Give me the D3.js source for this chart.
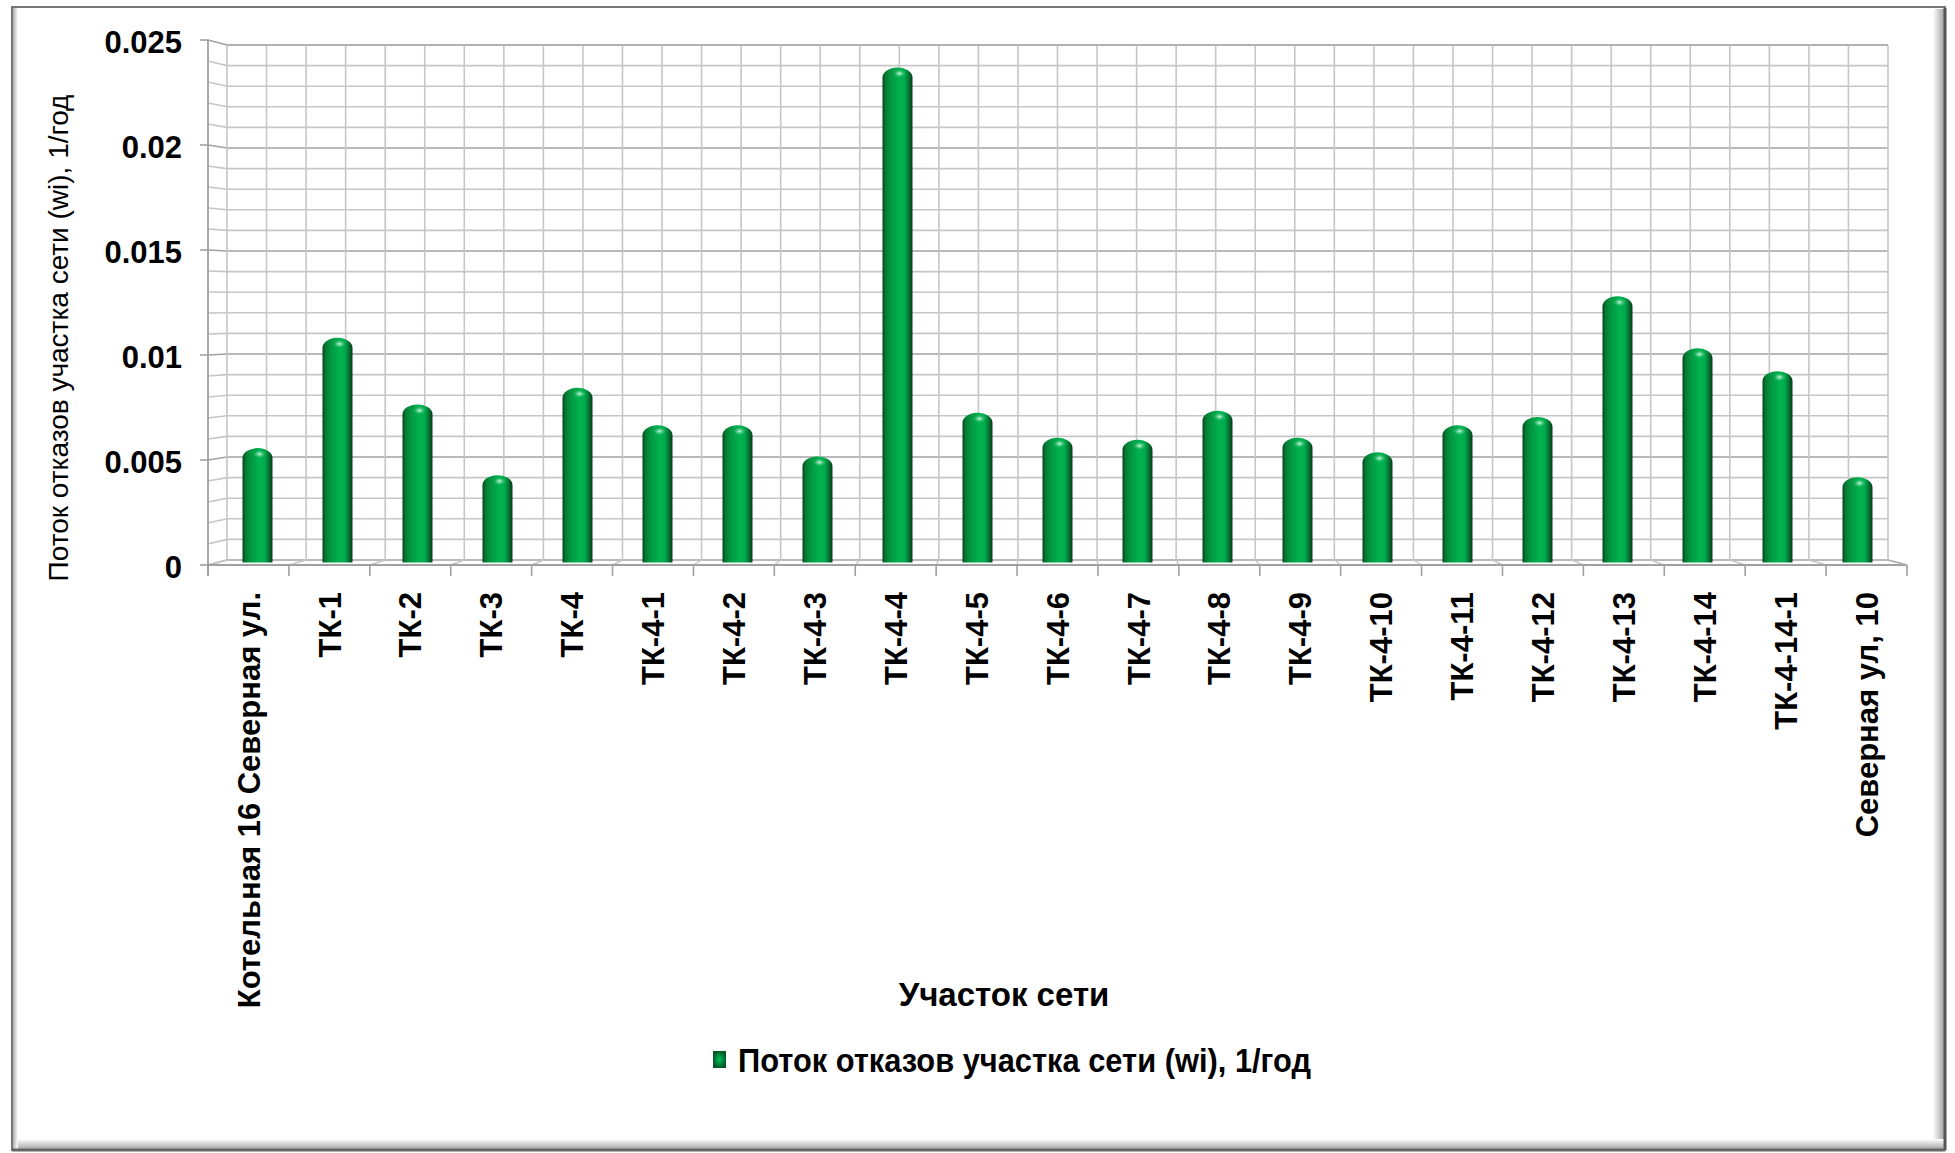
<!DOCTYPE html>
<html><head><meta charset="utf-8">
<script src="https://cdn.jsdelivr.net/npm/d3@7"></script>
<style>html,body{margin:0;padding:0;background:#fff;}svg{display:block;}
text{font-family:"Liberation Sans",Arial,sans-serif;fill:#000;}</style>
</head><body>
<script>
const categories = ["Котельная 16 Северная ул.","ТК-1","ТК-2","ТК-3","ТК-4","ТК-4-1","ТК-4-2","ТК-4-3","ТК-4-4","ТК-4-5","ТК-4-6","ТК-4-7","ТК-4-8","ТК-4-9","ТК-4-10","ТК-4-11","ТК-4-12","ТК-4-13","ТК-4-14","ТК-4-14-1","Северная ул, 10"];
const values = [0.0055,0.0108,0.0076,0.0042,0.0084,0.0066,0.0066,0.0051,0.0238,0.0072,0.0060,0.0059,0.0073,0.0060,0.0053,0.0066,0.0070,0.0128,0.0103,0.0092,0.0041];
const yTicks = [0,0.005,0.01,0.015,0.02,0.025];
const yTickLabels = ["0","0.005","0.01","0.015","0.02","0.025"];
const seriesName = "Поток отказов участка сети (wi), 1/год";
const xTitle = "Участок сети";
const yTitle = "Поток отказов участка сети (wi), 1/год";

const W=1955,H=1153;
const svg=d3.select("body").append("svg").attr("width",W).attr("height",H);
const defs=svg.append("defs");

// frame shadows
const gR=defs.append("linearGradient").attr("id","shR").attr("x1",0).attr("x2",1).attr("y1",0).attr("y2",0);
gR.append("stop").attr("offset",0).attr("stop-color","#fff");
gR.append("stop").attr("offset",1).attr("stop-color","#9a9a9a");
const gB=defs.append("linearGradient").attr("id","shB").attr("x1",0).attr("x2",0).attr("y1",0).attr("y2",1);
gB.append("stop").attr("offset",0).attr("stop-color","#fff");
gB.append("stop").attr("offset",1).attr("stop-color","#a0a0a0");
const gL=defs.append("linearGradient").attr("id","shL").attr("x1",1).attr("x2",0).attr("y1",0).attr("y2",0);
gL.append("stop").attr("offset",0).attr("stop-color","#fff");
gL.append("stop").attr("offset",1).attr("stop-color","#b0b0b0");

svg.append("rect").attr("x",12).attr("y",7).attr("width",1933).attr("height",1143).attr("fill","#fff");
svg.append("rect").attr("x",1933).attr("y",9).attr("width",12).attr("height",1141).attr("fill","url(#shR)");
svg.append("rect").attr("x",13).attr("y",1139).attr("width",1932).attr("height",11).attr("fill","url(#shB)");
svg.append("rect").attr("x",13).attr("y",8).attr("width",5).attr("height",1142).attr("fill","url(#shL)");
svg.append("rect").attr("x",12).attr("y",7).attr("width",1933).attr("height",1143).attr("fill","none").attr("stroke","#777").attr("stroke-width",2);
svg.append("line").attr("x1",1945).attr("x2",1945).attr("y1",8).attr("y2",1150).attr("stroke","#555").attr("stroke-width",3);
svg.append("line").attr("x1",12).attr("x2",1945).attr("y1",1150).attr("y2",1150).attr("stroke","#666").attr("stroke-width",3);

// geometry
const fx0=208,fx1=1907,bx0=227,bx1=1888;
const xFront=d3.scaleBand().domain(categories).range([fx0,fx1]);
const xBack=d3.scaleBand().domain(categories).range([bx0,bx1]);
const yFront=d3.scaleLinear().domain([0,0.025]).range([565,40]);
const yBack=d3.scaleLinear().domain([0,0.025]).range([560,45]);
const yMid=d3.scaleLinear().domain([0,0.025]).range([562.5,42.5]);
const minor=d3.range(0,0.02501,0.001);
const isMajor=v=>Math.abs(v/0.005-Math.round(v/0.005))<1e-6;
const grid=svg.append("g");
grid.selectAll("line.bh").data(minor).join("line")
 .attr("x1",bx0).attr("x2",bx1).attr("y1",d=>yBack(d)).attr("y2",d=>yBack(d))
 .attr("stroke",d=>isMajor(d)?"#a2a2a2":"#c6c6c6").attr("stroke-width",1.6);
grid.selectAll("line.lh").data(minor).join("line")
 .attr("x1",fx0).attr("x2",bx0).attr("y1",d=>yFront(d)).attr("y2",d=>yBack(d))
 .attr("stroke",d=>isMajor(d)?"#a2a2a2":"#c6c6c6").attr("stroke-width",1.6);
const halfSteps=d3.range(0,categories.length*2+1);
const xBackHalf=d3.scaleLinear().domain([0,categories.length*2]).range([bx0,bx1]);
grid.selectAll("line.bv").data(halfSteps).join("line")
 .attr("x1",d=>xBackHalf(d)).attr("x2",d=>xBackHalf(d)).attr("y1",yBack(0.025)).attr("y2",yBack(0))
 .attr("stroke","#c6c6c6").attr("stroke-width",1.6);
const bounds=d3.range(0,categories.length+1);
const xFrontB=d3.scaleLinear().domain([0,categories.length]).range([fx0,fx1]);
const xBackB=d3.scaleLinear().domain([0,categories.length]).range([bx0,bx1]);
grid.selectAll("line.fl").data(bounds).join("line")
 .attr("x1",d=>xFrontB(d)).attr("x2",d=>xBackB(d)).attr("y1",yFront(0)).attr("y2",yBack(0))
 .attr("stroke","#c6c6c6").attr("stroke-width",1.4);
grid.append("line").attr("x1",fx0).attr("x2",fx1).attr("y1",yFront(0)).attr("y2",yFront(0)).attr("stroke","#a0a0a0").attr("stroke-width",1.8);
grid.append("line").attr("x1",bx1).attr("x2",fx1).attr("y1",yBack(0)).attr("y2",yFront(0)).attr("stroke","#b0b0b0").attr("stroke-width",1.6);
grid.append("line").attr("x1",bx0).attr("x2",bx1).attr("y1",yBack(0.025)).attr("y2",yBack(0.025)).attr("stroke","#b0b0b0").attr("stroke-width",1.6);
grid.selectAll("line.xt").data(bounds).join("line")
 .attr("x1",d=>xFrontB(d)).attr("x2",d=>xFrontB(d)).attr("y1",yFront(0)).attr("y2",yFront(0)+11)
 .attr("stroke","#a0a0a0").attr("stroke-width",1.6);
grid.append("line").attr("x1",fx0).attr("x2",fx0).attr("y1",yFront(0.025)).attr("y2",yFront(0)+11).attr("stroke","#a0a0a0").attr("stroke-width",1.8);
grid.selectAll("line.yt").data(yTicks).join("line")
 .attr("x1",fx0-8).attr("x2",fx0).attr("y1",d=>yFront(d)).attr("y2",d=>yFront(d))
 .attr("stroke","#a0a0a0").attr("stroke-width",1.6);

// y labels
svg.append("g").selectAll("text").data(yTicks).join("text")
 .attr("x",182).attr("y",d=>yFront(d)+2).attr("dy","0.36em").attr("text-anchor","end")
 .attr("font-size",31).attr("font-weight","bold").text((d,i)=>yTickLabels[i]);

// bars
const bg=defs.append("linearGradient").attr("id","barG").attr("x1",0).attr("x2",1).attr("y1",0).attr("y2",0);
[[0,"#03401c"],[0.1,"#067a34"],[0.3,"#049942"],[0.58,"#00b351"],[0.75,"#00a84b"],[0.9,"#066b2e"],[1,"#023a19"]]
 .forEach(s=>bg.append("stop").attr("offset",s[0]).attr("stop-color",s[1]));
const sp=defs.append("radialGradient").attr("id","spec");
sp.append("stop").attr("offset",0).attr("stop-color","#ffffff").attr("stop-opacity",0.85);
sp.append("stop").attr("offset",0.5).attr("stop-color","#7de0a6").attr("stop-opacity",0.45);
sp.append("stop").attr("offset",1).attr("stop-color","#00b351").attr("stop-opacity",0);
const bw=30, ry=10;
const cx=d=>(xFront(d)+xBack(d))/2+(xFront.bandwidth()+xBack.bandwidth())/4;
const bars=svg.append("g");
categories.forEach((c,i)=>{
  const x=cx(c)-bw/2, top=yMid(values[i]), bot=yMid(0);
  bars.append("path").attr("d",`M${x},${bot} L${x},${top+ry} A${bw/2},${ry} 0 0 1 ${x+bw},${top+ry} L${x+bw},${bot} Z`)
   .attr("fill","url(#barG)");
  bars.append("ellipse").attr("cx",cx(c)+2).attr("cy",top+6).attr("rx",7).attr("ry",4.5).attr("fill","url(#spec)");
});

// category labels
svg.append("g").selectAll("text").data(categories).join("text")
 .attr("transform",d=>`translate(${xFront(d)+xFront.bandwidth()/2},592) rotate(-90)`)
 .attr("text-anchor","end").attr("dy","0.36em").attr("font-size",31).attr("font-weight","bold").text(d=>d);

// axis titles
svg.append("text").attr("x",1004).attr("y",994).attr("dy","0.36em").attr("text-anchor","middle")
 .attr("font-size",33).attr("font-weight","bold").text(xTitle);
svg.append("text").attr("transform","translate(58,338) rotate(-90)").attr("text-anchor","middle").attr("dy","0.36em")
 .attr("font-size",28).text(yTitle);

// legend
const lg=defs.append("radialGradient").attr("id","legG");
lg.append("stop").attr("offset",0).attr("stop-color","#00c05a");
lg.append("stop").attr("offset",1).attr("stop-color","#045a26");
svg.append("rect").attr("x",713).attr("y",1051).attr("width",13).attr("height",17).attr("fill","url(#legG)");
svg.append("text").attr("x",738).attr("y",1060).attr("dy","0.36em").attr("font-size",33).attr("font-weight","bold")
 .attr("textLength",573).attr("lengthAdjust","spacingAndGlyphs").text(seriesName);
</script>
</body></html>
